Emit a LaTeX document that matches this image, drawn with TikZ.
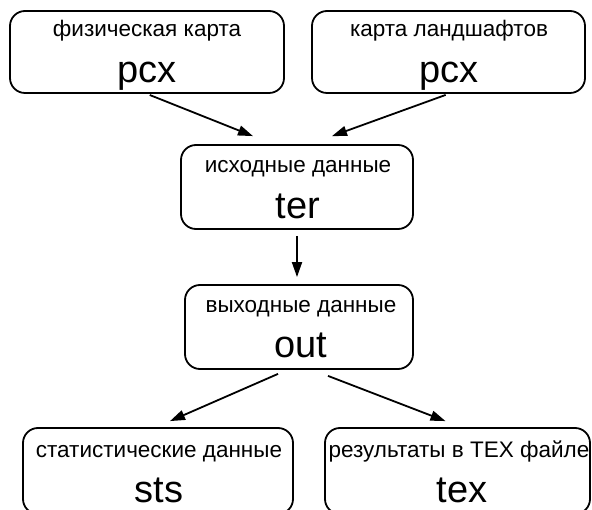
\documentclass[tikz,border=0pt]{standalone}
\usepackage{fontspec}
\setmainfont{Liberation Sans}
\usetikzlibrary{arrows.meta}
\begin{document}
\begin{tikzpicture}[x=1pt,y=-1pt,
  boxst/.style={draw, line width=1.8pt, rounded corners=15pt, inner sep=0pt},
  smallt/.style={anchor=base, inner sep=0pt, font=\fontsize{22.5}{26}\selectfont},
  bigt/.style={anchor=base, inner sep=0pt, font=\fontsize{38}{45}\selectfont},
  arr/.style={line width=1.8pt, -{Triangle[length=15pt,width=10pt]}}]
\clip (0,0) rectangle (592,510);
\fill[white] (0,0) rectangle (592,510);
% boxes
\node[boxst, minimum width=274pt, minimum height=82pt] (b1) at (147,52) {};
\node[boxst, minimum width=273pt, minimum height=82pt] (b2) at (448.5,52) {};
\node[boxst, minimum width=232pt, minimum height=84pt] (b3) at (297,187) {};
\node[boxst, minimum width=228pt, minimum height=84pt] (b4) at (299,327) {};
\node[boxst, minimum width=270pt, minimum height=86pt] (b5) at (158,471) {};
\node[boxst, minimum width=265pt, minimum height=86pt] (b6) at (457.5,471) {};
% texts
\node[smallt] (t1) at (147,37) {физическая карта};
\node[bigt] (u1) at (147,83) {pcx};
\node[smallt] (t2) at (449,37) {карта ландшафтов};
\node[bigt] (u2) at (449,83) {pcx};
\node[smallt] (t3) at (298,173) {исходные данные};
\node[bigt] (u3) at (298,219) {ter};
\node[smallt] (t4) at (301,313) {выходные данные};
\node[bigt] (u4) at (301,358) {out};
\node[smallt] (t5) at (159,457) {статистические данные};
\node[bigt] (u5) at (159,502) {sts};
\node[smallt] (t6) at (459,457) {результаты в TEX файле};
\node[bigt] (u6) at (462,502) {tex};
% arrows
\draw[arr, shorten <=3pt] (b1.south) -- ([shift={(-44,-8)}]b3.north);
\draw[arr, shorten <=3pt] (b2.south) -- ([shift={(35,-8)}]b3.north);
\draw[arr, shorten <=6pt, shorten >=7pt] (b3.south) -- (b3.south |- b4.north);
\draw[arr] ([shift={(-21,4)}]b4.south) -- ([shift={(12,-6)}]b5.north);
\draw[arr] ([shift={(29,6)}]b4.south) -- ([shift={(-12,-6)}]b6.north);
\end{tikzpicture}
\end{document}
